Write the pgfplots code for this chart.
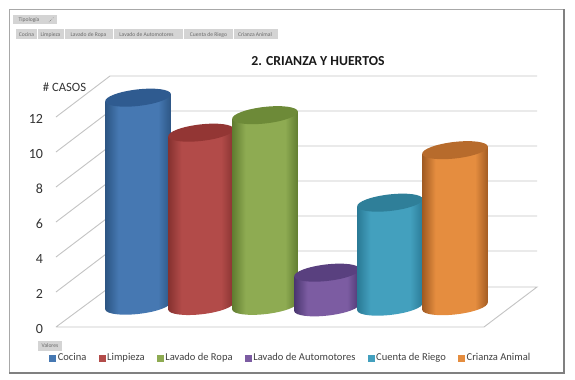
\documentclass[border=0pt]{standalone}
\usepackage{fontspec}
\setmainfont{Carlito}
\usepackage{pgfplots}
\pgfplotsset{compat=1.18}
\definecolor{gridc}{HTML}{C4C4C4}
\definecolor{framec}{HTML}{A8A8A8}
\definecolor{btn}{HTML}{D4D4D4}
\definecolor{btntx}{HTML}{6A6A6A}
\definecolor{blue-e}{HTML}{2C5583}\definecolor{blue-m}{HTML}{4678B2}\definecolor{blue-t}{HTML}{2F5B90}
\definecolor{red-e}{HTML}{863230}\definecolor{red-m}{HTML}{B24B49}\definecolor{red-t}{HTML}{933634}
\definecolor{green-e}{HTML}{607C30}\definecolor{green-m}{HTML}{8EAB52}\definecolor{green-t}{HTML}{6D8A38}
\definecolor{purple-e}{HTML}{4A3670}\definecolor{purple-m}{HTML}{7C5CA2}\definecolor{purple-t}{HTML}{59407F}
\definecolor{teal-e}{HTML}{2A7A96}\definecolor{teal-m}{HTML}{43A0BE}\definecolor{teal-t}{HTML}{2F7F99}
\definecolor{orange-e}{HTML}{A05A22}\definecolor{orange-m}{HTML}{E58D3F}\definecolor{orange-t}{HTML}{B76B2C}
\newcommand\declcyl[1]{\pgfdeclarehorizontalshading{cyl#1}{100bp}{color(0bp)=(#1-e); color(25bp)=(#1-e); color(35bp)=(#1-m); color(50bp)=(#1-m); color(65bp)=(#1-m); color(75bp)=(#1-e); color(100bp)=(#1-e)}}
\declcyl{blue}\declcyl{red}\declcyl{green}\declcyl{purple}\declcyl{teal}\declcyl{orange}
% A = (24.59,2.80)  B = (-0.70,6.16)  k = .5523
\pgfdeclareplotmark{cyl}{%
  \pgfmathsetlengthmacro\cyly{14.5pt-\val*13pt}%
  \path[draw=none,shading=cyl\cname] (-24.59pt,11.7pt) -- (-24.59pt,\cyly-2.80pt)
     .. controls (-24.20pt,\cyly-6.20pt) and (-12.88pt,\cyly-7.71pt) .. (0.70pt,\cyly-6.16pt)
     .. controls (14.28pt,\cyly-4.61pt) and (24.98pt,\cyly-0.60pt) .. (24.59pt,\cyly+2.80pt)
     -- (24.59pt,17.3pt) -- cycle;
  \pgfpathellipse{\pgfpoint{0pt}{14.5pt}}{\pgfpoint{24.59pt}{2.80pt}}{\pgfpoint{-0.70pt}{6.16pt}}%
  \pgfsetfillcolor{\cname-t}\pgfusepathqfill}
\newcommand\PX[2]{axis cs:#1,{(327-#2)/17.5}}
\newcommand\btn[4]{\fill[btn] (\PX{#1}{#3}) rectangle (\PX{#2}{#4});}
\pgfplotsset{
  cylplot/.style={only marks,scatter,mark=cyl,
    visualization depends on={y \as \val},
    visualization depends on={value #1 \as \cname},
    legend image code/.code={\fill[#1-m] (0pt,-2.4pt) rectangle (4.6pt,2.2pt);}},
  wall/.style={gridc,line width=0.7pt,no markers,forget plot}
}
\begin{document}
\begin{tikzpicture}
\begin{axis}[
  scale only axis,width=320.25pt,height=157.5pt,
  xmin=57,xmax=484,ymin=0,ymax=12,clip=false,
  axis line style={draw=none},
  xtick=\empty,ytick={0,2,...,12},
  major tick length=0pt,
  yticklabel style={font=\fontsize{10.5}{12}\selectfont,text=black!80,xshift=-7pt,yshift=-1.3pt},
  /pgf/number format/assume math mode=true,
  legend columns=6,
  legend style={at={(\PX{49}{358})},anchor=west,draw=none,fill=none,
    font=\fontsize{7.9}{10}\selectfont,text=black!75,inner sep=0pt,
    /tikz/every odd column/.append style={column sep=-0.6pt},
    /tikz/every even column/.append style={column sep=7.2pt},
    legend cell align=left},
]
\path (\PX{0}{0}) rectangle (\PX{575}{379});
% frame
\draw[framec,line width=0.7pt] (\PX{9.5}{372.5}) -- (\PX{9.5}{9.5}) -- (\PX{563.5}{9.5});
\draw[black!50,line width=1.1pt] (\PX{563.8}{9.5}) -- (\PX{563.8}{372.8}) -- (\PX{9.5}{372.8});
% buttons
\btn{13}{57}{15}{24}
\btn{16}{37}{29}{39}\btn{38}{64}{29}{39}\btn{65}{113}{29}{39}\btn{114}{183}{29}{39}\btn{184}{233}{29}{39}\btn{234}{278}{29}{39}
\btn{38}{62}{341}{351}
\begin{scope}[font=\fontsize{4.2}{5}\selectfont,text=btntx]
\node at (\PX{29}{20}) {Tipología};
\node at (\PX{26.5}{35}) {Cocina};
\node at (\PX{50.5}{35}) {Limpieza};
\node at (\PX{88.5}{35}) {Lavado de Ropa};
\node at (\PX{146.5}{35}) {Lavado de Automotores};
\node at (\PX{208.5}{35}) {Cuenta de Riego};
\node at (\PX{255}{35}) {Crianza Animal};
\node at (\PX{50}{346}) {Valores};
\end{scope}
\draw[btntx,line width=0.4pt,densely dotted] (\PX{49}{22}) -- (\PX{54}{17});
% walls
\addplot[wall] coordinates {(56,0)(484,0)(537,2.286)(110,2.286)(56,0)};
\addplot[wall] coordinates {(56,2)(110,4.343)(537,4.343)};
\addplot[wall] coordinates {(56,4)(110,6.343)(537,6.343)};
\addplot[wall] coordinates {(56,6)(110,8.343)(537,8.343)};
\addplot[wall] coordinates {(56,8)(110,10.343)(537,10.343)};
\addplot[wall] coordinates {(56,10)(110,12.343)(537,12.343)};
\addplot[wall] coordinates {(56,12)(110,14.343)(537,14.343)};
% series
\addplot[cylplot=blue] coordinates {(138,12)};\addlegendentry{Cocina}
\addplot[cylplot=red] coordinates {(201,10)};\addlegendentry{Limpieza}
\addplot[cylplot=green] coordinates {(265,11)};\addlegendentry{Lavado de Ropa}
\addplot[cylplot=purple] coordinates {(327,2)};\addlegendentry{Lavado de Automotores}
\addplot[cylplot=teal] coordinates {(390,6)};\addlegendentry{Cuenta de Riego}
\addplot[cylplot=orange] coordinates {(455,9)};\addlegendentry{Crianza Animal}
% text
\node[font=\bfseries\fontsize{10.3}{13}\selectfont,text=black!90] at (\PX{318}{61}) {2. CRIANZA Y HUERTOS};
\node[font=\fontsize{9.5}{12}\selectfont,text=black!80] at (\PX{64.5}{87.5}) {\# CASOS};
\end{axis}
\end{tikzpicture}
\end{document}
